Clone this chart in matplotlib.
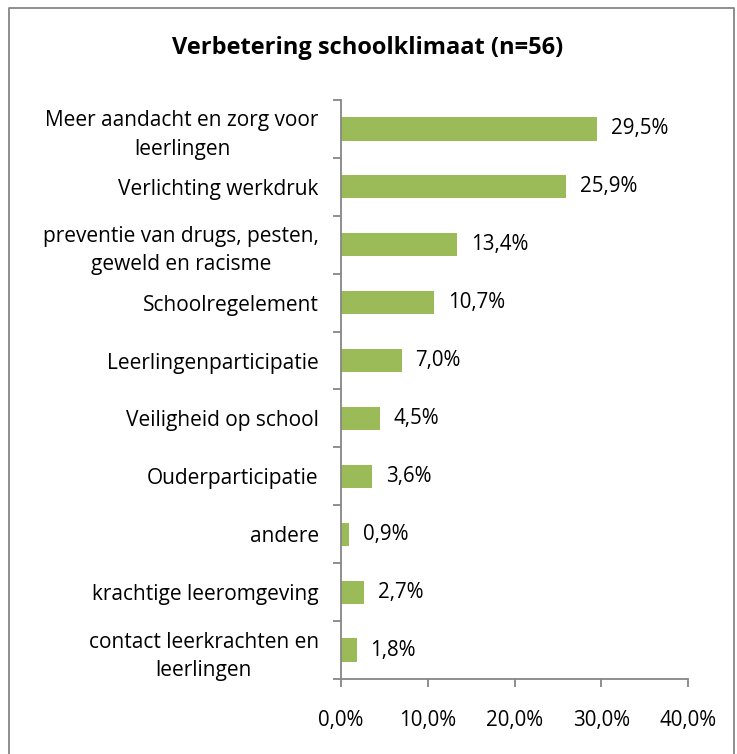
import matplotlib.pyplot as plt
from matplotlib.lines import Line2D

# data (top to bottom)
labels = ["Meer aandacht en zorg voor\nleerlingen", "Verlichting werkdruk",
          "preventie van drugs, pesten,\ngeweld en racisme", "Schoolregelement",
          "Leerlingenparticipatie", "Veiligheid op school", "Ouderparticipatie",
          "andere", "krachtige leeromgeving", "contact leerkrachten en\nleerlingen"]
values = [29.5, 25.9, 13.4, 10.7, 7.0, 4.5, 3.6, 0.9, 2.7, 1.8]
xticks = [0, 10, 20, 30, 40]

plt.rcParams['font.family'] = ['Open Sans', 'DejaVu Sans']

fig = plt.figure(figsize=(7.37, 7.54), dpi=100)
ax = fig.add_axes([341/737, 75/754, 347/737, 579/754])

n = len(values)
pos = list(range(n))
ax.barh(pos, values, height=0.4, color='#9BBB59')
ax.set_ylim(n - 0.5, -0.5)
ax.set_xlim(0, 40)

for p, v in zip(pos, values):
    ax.text(v + 1.6, p, f"{v:.1f}%".replace('.', ','), va='center', ha='left', fontsize=14.8)

ax.set_yticks([i - 0.5 for i in range(n + 1)])
ax.set_yticklabels([])
ax.set_yticks(pos, minor=True)
ax.set_yticklabels(labels, minor=True, fontsize=15, multialignment='center', linespacing=1.45)
ax.tick_params(axis='y', which='minor', length=0, pad=16)
ax.tick_params(axis='y', which='major', length=6, color='#868686', width=1.3)

ax.set_xticks(xticks)
ax.set_xticklabels([f"{t:.1f}%".replace('.', ',') for t in xticks], fontsize=14.8)
ax.tick_params(axis='x', length=6, color='#868686', width=1.3, pad=16)

for s in ['top', 'right']:
    ax.spines[s].set_visible(False)
for s in ['left', 'bottom']:
    ax.spines[s].set_color('#868686')
    ax.spines[s].set_linewidth(1.3)

fig.text(368/737, 1 - 48/754, "Verbetering schoolklimaat (n=56)", ha='center', va='center',
         fontsize=17, fontweight='bold')

# chart border
fig.add_artist(Line2D([9/737, 9/737, 734/737, 734/737], [0, 1 - 8/754, 1 - 8/754, 0],
                      transform=fig.transFigure, color='#868686', lw=1.3))

fig.savefig('out.png', dpi=100)
